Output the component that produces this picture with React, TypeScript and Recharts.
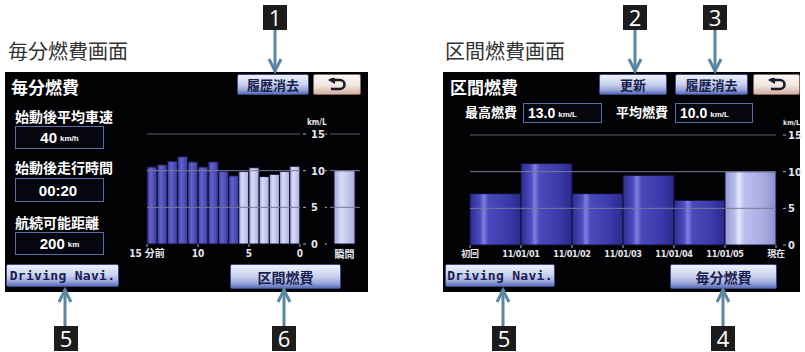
import React from 'react';
import { BarChart, Bar, XAxis, YAxis, ReferenceLine, Cell } from 'recharts';

// 毎分燃費: 15 one-minute slots, oldest first
const minuteSlots = ['15', '14', '13', '12', '11', '10', '9', '8', '7', '6', '5', '4', '3', '2', '1'];
const minuteFuel = [10.5, 10.8, 11.3, 11.9, 11.2, 10.5, 11.2, 9.9, 9.3, 9.9, 10.4, 9.2, 9.5, 9.9, 10.6];
const minuteRecentFrom = 9;
const minuteTickLabels = ['15 分前', '10', '5', '0']; // on every 5th slot border
const instantSlots = ['瞬間'];
const instantFuel = [10.0];

// 区間燃費: 6 intervals, labels sit on the interval borders
const intervalSlots = ['初回', '11/01/01', '11/01/02', '11/01/03', '11/01/04', '11/01/05'];
const intervalFuel = [7.0, 11.1, 7.0, 9.5, 6.1, 10.0];
const intervalTickLabels = ['初回', '11/01/01', '11/01/02', '11/01/03', '11/01/04', '11/01/05', '現在'];

const fuelTicks = [0, 5, 10, 15];

const minuteData = minuteSlots.map((slot, i) => ({ slot, fuel: minuteFuel[i] }));
const instantData = instantSlots.map((slot, i) => ({ slot, fuel: instantFuel[i] }));
const intervalData = intervalSlots.map((slot, i) => ({ slot, fuel: intervalFuel[i] }));

const jp = '"Noto Sans CJK JP", "Noto Sans", sans-serif';
const narrow = '"Liberation Sans Narrow", "DejaVu Sans Condensed", "Noto Sans CJK JP", sans-serif';
const arrowColor = '#5b87a2';
const gridColor = '#7a7a96';

const yTick = { fill: '#e6e6ee', fontSize: 11, fontWeight: 700, fontFamily: narrow };
const xTick = { fill: '#e6e6ee', fontSize: 10, fontWeight: 700, fontFamily: narrow };

// label drawn on band borders instead of band centres
const EdgeTick = ({ x, y, payload, index, labels, every, count, band, size = 10 }: any) => {
  const half = payload && payload.offset ? payload.offset : band / 2;
  const items: { x: number; text: string }[] = [];
  if (index % every === 0) items.push({ x: x - half, text: labels[index / every] });
  if (index === count - 1) items.push({ x: x + half, text: labels[labels.length - 1] });
  return (
    <g>
      {items.map((it) => (
        <g key={it.text}>
          <line x1={it.x} x2={it.x} y1={y - 6} y2={y - 3} stroke="#b0b0c0" />
          <text x={it.x} y={y} dy="0.71em" textAnchor="middle" {...xTick} fontSize={size} letterSpacing={size < 10 ? -0.3 : 0}>
            {it.text}
          </text>
        </g>
      ))}
    </g>
  );
};

const Gradients = () => (
  <svg width={0} height={0} style={{ position: 'absolute' }}>
    <defs>
      <linearGradient id="darkBar" x1="0" y1="0" x2="1" y2="0">
        <stop offset="0" stopColor="#2c2c92" />
        <stop offset="0.2" stopColor="#4c4cc0" />
        <stop offset="0.27" stopColor="#8080e0" />
        <stop offset="0.36" stopColor="#4a4abc" />
        <stop offset="0.75" stopColor="#3a3aaa" />
        <stop offset="1" stopColor="#2a2a8c" />
      </linearGradient>
      <linearGradient id="lightBar" x1="0" y1="0" x2="1" y2="0">
        <stop offset="0" stopColor="#9498d6" />
        <stop offset="0.2" stopColor="#bcc0ec" />
        <stop offset="0.27" stopColor="#e6e8fb" />
        <stop offset="0.38" stopColor="#bcc0ec" />
        <stop offset="0.8" stopColor="#a4a8e0" />
        <stop offset="1" stopColor="#8a8ecc" />
      </linearGradient>
      <linearGradient id="minDark" x1="0" y1="0" x2="1" y2="0">
        <stop offset="0" stopColor="#34349a" />
        <stop offset="0.35" stopColor="#6262c8" />
        <stop offset="1" stopColor="#3a3aa2" />
      </linearGradient>
      <linearGradient id="minLight" x1="0" y1="0" x2="1" y2="0">
        <stop offset="0" stopColor="#a2a6dc" />
        <stop offset="0.35" stopColor="#dadcf6" />
        <stop offset="1" stopColor="#aaaee2" />
      </linearGradient>
    </defs>
  </svg>
);

const Btn = ({ x, y, w, h, children, size = 13, mono = false, back = false }: any) => (
  <div
    style={{
      position: 'absolute', left: x, top: y, width: w, height: h, boxSizing: 'border-box',
      background: back
        ? 'linear-gradient(#fbf8f6, #f0e6e0 55%, #d6b2a2)'
        : 'linear-gradient(#eef1fb, #c9d1ef 50%, #9aa8dc 78%, #5a6cb6)',
      border: back ? '1px solid #8a6a60' : '1px solid #3a4a8a',
      borderRadius: 2, color: '#18204e', fontWeight: 700, fontSize: size,
      fontFamily: mono ? '"DejaVu Sans Mono", "Liberation Mono", monospace' : jp,
      display: 'flex', alignItems: 'center', justifyContent: 'center', letterSpacing: mono ? 0.3 : 0,
      lineHeight: 1,
    }}
  >
    {children}
  </div>
);

const Txt = ({ x, y, size, children, color = '#fff', weight = 700, font = jp }: any) => (
  <div style={{ position: 'absolute', left: x, top: y, fontSize: size, color, fontWeight: weight, fontFamily: font, lineHeight: 1, whiteSpace: 'nowrap' }}>
    {children}
  </div>
);

const ValueBox = ({ x, y, w, h, value, unit, size = 15, pad = 0 }: any) => (
  <div
    style={{
      position: 'absolute', left: x, top: y, width: w, height: h, boxSizing: 'border-box',
      border: '1px solid #5a6ea6', background: '#06060e', color: '#fff',
      display: 'flex', alignItems: 'center', justifyContent: pad ? 'flex-start' : 'center', paddingLeft: pad,
      fontFamily: '"Liberation Sans", Arial, sans-serif', fontWeight: 700, lineHeight: 1,
    }}
  >
    <span style={{ fontSize: size }}>{value}</span>
    <span style={{ fontSize: 8, marginLeft: 3, marginTop: 3 }}>{unit}</span>
  </div>
);

const GridLines = ({ xId }: { xId: string }) => (
  <>
    {[5, 10, 15].map((v) => (
      <ReferenceLine key={v} y={v} xAxisId={xId} stroke={v === 15 ? '#5c5c6c' : gridColor} strokeWidth={1} ifOverflow="extendDomain" zIndex={1000} />
    ))}
  </>
);

const MinuteChart = () => (
  <div style={{ position: 'absolute', left: 130, top: 110 }}>
    <BarChart width={196} height={154} data={minuteData} margin={{ top: 24, right: 0, bottom: 0, left: 13 }} barCategoryGap={0}>
      <XAxis
        xAxisId="bars" dataKey="slot" interval={0} axisLine={false} tickLine={false} tickSize={3} tickMargin={3} height={20}
        tick={(p: any) => <EdgeTick {...p} labels={minuteTickLabels} every={5} count={minuteData.length} band={153 / 15} />}
      />
      <YAxis yAxisId={0} orientation="right" domain={[0, 15]} ticks={fuelTicks} width={26} axisLine={false}
        tickSize={6} tickMargin={5} tickLine={{ stroke: '#b0b0c0', strokeDasharray: '3 20' }} tick={yTick} />
      <YAxis yAxisId="l" orientation="left" domain={[0, 15]} ticks={fuelTicks} width={4} axisLine={false}
        tickSize={5} tickFormatter={() => ''} tickLine={{ stroke: '#b0b0c0', strokeDasharray: '2 20' }} />
      <Bar xAxisId="bars" dataKey="fuel" isAnimationActive={false} stroke="#10102e" strokeWidth={1}>
        {minuteData.map((d, i) => (
          <Cell key={d.slot} fill={i >= minuteRecentFrom ? 'url(#minLight)' : 'url(#minDark)'} />
        ))}
      </Bar>
      {GridLines({ xId: 'bars' })}
    </BarChart>
  </div>
);

const InstantChart = () => (
  <div style={{ position: 'absolute', left: 320, top: 110 }}>
    <BarChart width={42} height={154} data={instantData} margin={{ top: 24, right: 2, bottom: 0, left: 6 }} barCategoryGap={0}>
      <XAxis xAxisId="bars" dataKey="slot" padding={{ left: 4, right: 5 }} axisLine={false} tickLine={false}
        tickSize={3} tickMargin={4} tick={xTick} height={20} interval={0} />
      <YAxis orientation="left" domain={[0, 15]} ticks={fuelTicks} width={4} axisLine={false}
        tickSize={5} tickFormatter={() => ''} tickLine={{ stroke: '#b0b0c0', strokeDasharray: '2 20' }} />
      <Bar xAxisId="bars" dataKey="fuel" isAnimationActive={false} fill="url(#minLight)" stroke="#10102e" strokeWidth={1} />
      {GridLines({ xId: 'bars' })}
    </BarChart>
  </div>
);

const IntervalChart = () => (
  <div style={{ position: 'absolute', left: 440, top: 112 }}>
    <BarChart width={362} height={153} data={intervalData} margin={{ top: 23, right: 0, bottom: 0, left: 26 }} barCategoryGap={0}>
      <XAxis
        xAxisId="bars" dataKey="slot" interval={0} axisLine={false} tickLine={false} tickSize={3} tickMargin={3} height={20}
        tick={(p: any) => <EdgeTick {...p} labels={intervalTickLabels} every={1} count={intervalData.length} band={306 / 6} size={9} />}
      />
      <YAxis yAxisId={0} orientation="right" domain={[0, 15]} ticks={fuelTicks} width={26} axisLine={false}
        tickSize={10} tickMargin={2} tickLine={{ stroke: '#b0b0c0', strokeDasharray: '3 20' }} tick={yTick} />
      <YAxis yAxisId="l" orientation="left" domain={[0, 15]} ticks={fuelTicks} width={4} axisLine={false}
        tickSize={4} tickFormatter={() => ''} tickLine={{ stroke: '#b0b0c0', strokeDasharray: '2 20' }} />
      <Bar xAxisId="bars" dataKey="fuel" isAnimationActive={false} stroke="#10102e" strokeWidth={1}>
        {intervalData.map((d, i) => (
          <Cell key={d.slot} fill={i === intervalData.length - 1 ? 'url(#lightBar)' : 'url(#darkBar)'} />
        ))}
      </Bar>
      {GridLines({ xId: 'bars' })}
    </BarChart>
  </div>
);

const Callout = ({ n, x, y }: any) => (
  <div style={{ position: 'absolute', left: x, top: y, width: 24, height: 25, background: '#1c1c1c', color: '#fff',
    fontSize: 22, fontFamily: '"Open Sans", "Noto Sans", sans-serif', lineHeight: '25px', textAlign: 'center' }}>
    {n}
  </div>
);

const downArrows = [275, 635, 715];
const upArrows = [65, 284, 503, 723];

const Arrows = () => (
  <svg width={805} height={352} style={{ position: 'absolute', left: 0, top: 0, pointerEvents: 'none' }}>
    {downArrows.map((x) => (
      <g key={x} stroke={arrowColor} strokeWidth={3} fill="none">
        <line x1={x} y1={30} x2={x} y2={72} />
        <polyline points={`${x - 6},${59} ${x},${71} ${x + 6},${59}`} />
      </g>
    ))}
    {upArrows.map((x) => (
      <g key={x} stroke={arrowColor} strokeWidth={3} fill="none">
        <line x1={x} y1={326} x2={x} y2={289} />
        <polyline points={`${x - 6},${302} ${x},${290} ${x + 6},${302}`} />
      </g>
    ))}
  </svg>
);

const BackIcon = () => (
  <svg width={20} height={14} viewBox="0 0 20 14">
    <path d="M6 2 H13 A4.5 4.5 0 0 1 13 11 H4" stroke="#1a1a2a" strokeWidth={2.6} fill="none" />
    <polygon points="1,2 8,-2 8,6" fill="#1a1a2a" />
  </svg>
);

export default function App() {
  return (
    <div style={{ position: 'fixed', left: 0, top: 0, width: 805, height: 352, background: '#fff', overflow: 'hidden' }}>
      <Gradients />

      <Txt x={8} y={41} size={20} color="#333" weight={400}>毎分燃費画面</Txt>
      <Txt x={445} y={41} size={20} color="#333" weight={400}>区間燃費画面</Txt>

      {/* 毎分燃費 screen */}
      <div style={{ position: 'absolute', left: 5, top: 72, width: 363, height: 220, background: '#020204' }} />
      <Txt x={11} y={78} size={17}>毎分燃費</Txt>
      <Txt x={15} y={109} size={14}>始動後平均車速</Txt>
      <ValueBox x={15} y={126} w={89} h={23} value="40" unit="km/h" />
      <Txt x={15} y={160} size={14}>始動後走行時間</Txt>
      <ValueBox x={15} y={178} w={89} h={24} value="00:20" unit="" />
      <Txt x={15} y={215} size={14}>航続可能距離</Txt>
      <ValueBox x={15} y={232} w={89} h={23} value="200" unit="km" />
      <Btn x={6} y={264} w={113} h={23} mono size={13}>Driving Navi.</Btn>
      <Btn x={237} y={74} w={72} h={21} size={13}>履歴消去</Btn>
      <Btn x={313} y={74} w={48} h={21} back><BackIcon /></Btn>
      <Btn x={230} y={264} w={111} h={25} size={14}>区間燃費</Btn>
      <Txt x={307} y={119} size={8} color="#e6e6ee" font={narrow}>km/L</Txt>
      <MinuteChart />
      <InstantChart />

      {/* 区間燃費 screen */}
      <div style={{ position: 'absolute', left: 443, top: 72, width: 357, height: 220, background: '#020204' }} />
      <Txt x={450} y={78} size={17}>区間燃費</Txt>
      <Btn x={599} y={74} w={68} h={21} size={13}>更新</Btn>
      <Btn x={675} y={74} w={73} h={21} size={13}>履歴消去</Btn>
      <Btn x={753} y={74} w={47} h={21} back><BackIcon /></Btn>
      <Txt x={465} y={105} size={13}>最高燃費</Txt>
      <ValueBox x={523} y={103} w={79} h={20} value="13.0" unit="km/L" size={14} pad={4} />
      <Txt x={616} y={105} size={13}>平均燃費</Txt>
      <ValueBox x={675} y={103} w={78} h={20} value="10.0" unit="km/L" size={14} pad={4} />
      <Txt x={783} y={120} size={7} color="#e6e6ee" font={narrow}>km/L</Txt>
      <IntervalChart />
      <Btn x={445} y={264} w={110} h={23} mono size={13}>Driving Navi.</Btn>
      <Btn x={670} y={264} w={107} h={25} size={14}>毎分燃費</Btn>

      <Arrows />
      <Callout n="1" x={263} y={5} />
      <Callout n="2" x={623} y={5} />
      <Callout n="3" x={703} y={5} />
      <Callout n="5" x={54} y={326} />
      <Callout n="6" x={272} y={326} />
      <Callout n="5" x={492} y={326} />
      <Callout n="4" x={711} y={326} />
    </div>
  );
}
